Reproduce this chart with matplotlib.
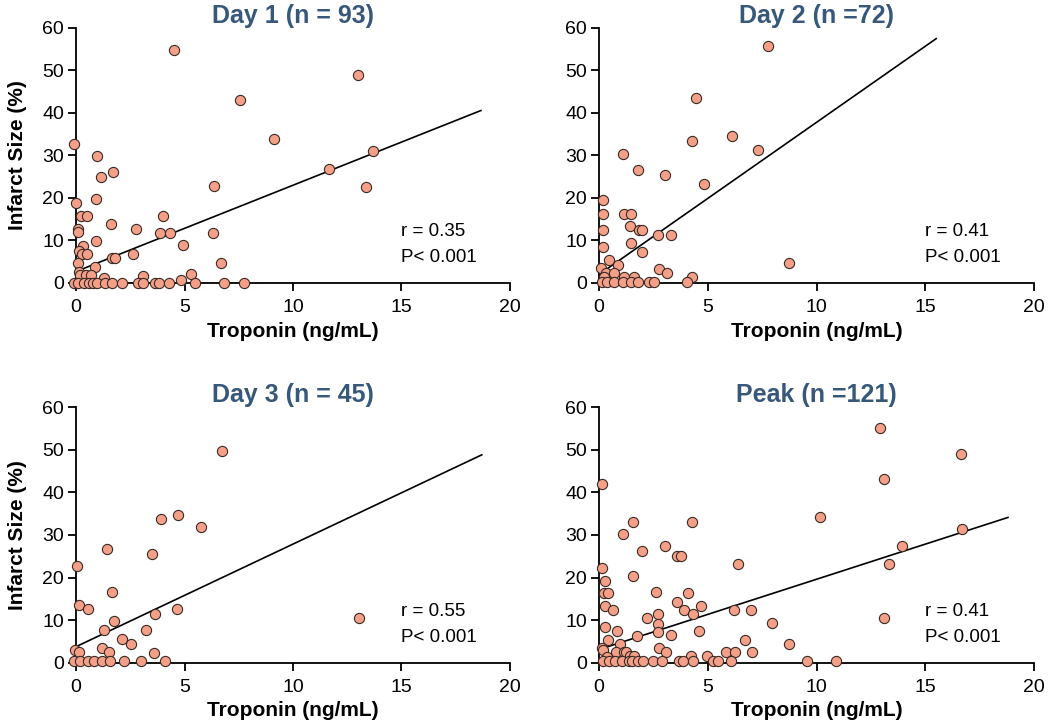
import numpy as np
import matplotlib
matplotlib.use("Agg")
import matplotlib.pyplot as plt

plt.rcParams['font.family'] = ['Liberation Sans', 'DejaVu Sans']

titles = ["Day 1 (n = 93)", "Day 2 (n =72)", "Day 3 (n = 45)", "Peak (n =121)"]
r_text = ["r = 0.35", "r = 0.41", "r = 0.55", "r = 0.41"]
p_text = ["P< 0.001", "P< 0.001", "P< 0.001", "P< 0.001"]

# day 1
day1_x = [-0.1, 0.95, 1.15, 1.72, 0.0, 0.92, 0.23, 0.49, 0.1, 0.08, 1.63, 0.92, 0.3, 0.14,
          0.28, 0.49, 0.08, 0.86, 0.12, 0.2, 0.46, 0.67, 1.29, 1.67, 1.78, 2.78, 2.62, 3.08,
          4.0, 3.88, 4.31, 4.93, 4.52, 5.32, 4.86, 6.34, 6.33, 6.67, 7.57, 9.12, 11.67, 13.0,
          13.35, 13.7,
          -0.09, 0.11, 0.36, 0.6, 0.8, 0.97, 1.33, 1.67, 2.11, 2.86, 3.08, 3.66, 3.82, 4.29,
          5.5, 6.83, 7.73]
day1_y = [32.8, 29.8, 25.0, 26.0, 18.9, 19.7, 15.8, 15.8, 12.8, 11.9, 13.8, 9.8, 8.8, 7.5,
          6.8, 6.8, 4.8, 3.8, 2.5, 1.8, 1.8, 1.8, 1.1, 5.9, 5.9, 12.7, 6.8, 1.7,
          15.8, 11.8, 11.8, 9.0, 54.9, 2.0, 0.7, 22.9, 11.8, 4.7, 43.0, 33.9, 26.9, 49.0,
          22.7, 31.0,
          0, 0, 0, 0, 0, 0, 0, 0, 0, 0, 0, 0, 0, 0,
          0, 0, 0]

# day 2
day2_x = [7.76, 4.44, 4.26, 6.13, 7.3, 1.09, 1.79, 3.05, 4.84, 0.17, 0.17, 1.16, 1.45, 0.16,
          1.43, 1.82, 1.98, 2.72, 3.3, 1.45, 0.16, 1.96, 0.44, 0.87, 0.08, 0.34, 0.71, 2.78,
          3.12, 8.73, 0.25, 1.17, 1.6, 4.26,
          0.15, 0.37, 0.69, 1.11, 1.48, 1.81, 2.3, 2.53, 4.06]
day2_y = [55.8, 43.5, 33.5, 34.6, 31.4, 30.4, 26.6, 25.3, 23.4, 19.6, 16.3, 16.3, 16.3, 12.5,
          13.4, 12.4, 12.4, 11.4, 11.4, 9.4, 8.5, 7.4, 5.4, 4.3, 3.5, 2.4, 2.3, 3.4,
          2.4, 4.6, 1.5, 1.3, 1.4, 1.4,
          0.3, 0.3, 0.3, 0.3, 0.3, 0.3, 0.3, 0.3, 0.3]

# day 3
day3_x = [6.71, 4.68, 3.93, 5.76, 1.43, 3.52, 0.05, 1.66, 0.12, 0.54, 4.64, 3.66, 1.77, 1.29,
          3.23, 2.12, 2.52, 1.21, 1.52, 3.58, -0.03, 0.14, 13.04,
          -0.08, 0.2, 0.54, 0.82, 1.19, 1.56, 2.2, 3.0, 4.1]
day3_y = [49.7, 34.8, 33.8, 31.8, 26.7, 25.6, 22.7, 16.6, 13.5, 12.6, 12.5, 11.5, 9.7, 7.6,
          7.6, 5.6, 4.5, 3.5, 2.5, 2.3, 3.0, 2.5, 10.6,
          0.5, 0.5, 0.5, 0.5, 0.5, 0.5, 0.5, 0.5, 0.5]

# peak
peak_x = [12.91, 16.66, 13.08, 0.12, 10.15, 1.58, 4.26, 1.1, 16.71, 3.02, 13.95, 1.99, 3.6, 3.78,
          6.37, 13.35, 0.14, 0.26, 1.55, 0.21, 0.4, 2.6, 4.1, 0.26, 0.66, 3.58, 3.92, 4.32,
          4.67, 6.19, 6.97, 2.71, 2.19, 13.08, 2.71, 7.95, 0.28, 0.81, 2.71, 4.59, 3.31, 1.76,
          0.43, 6.69, 0.95, 8.73, 0.12, 0.18, 2.77, 3.09, 0.77, 1.13, 1.24, 5.85, 6.25, 7.05,
          1.41, 1.59, 4.23, 4.95, 0.37,
          0.17, 0.47, 0.75, 1.04, 1.38, 1.53, 1.78, 2.01, 2.48, 2.89, 3.69, 3.86, 4.3, 5.25,
          5.48, 6.08, 9.57, 10.9]
peak_y = [55.1, 49.1, 43.1, 42.0, 34.3, 33.1, 33.0, 30.2, 31.4, 27.3, 27.3, 26.2, 25.1, 25.1,
          23.3, 23.2, 22.2, 19.1, 20.4, 16.4, 16.4, 16.5, 16.4, 13.3, 12.4, 14.3, 12.4, 11.5,
          13.3, 12.4, 12.4, 11.4, 10.6, 10.4, 9.2, 9.3, 8.5, 7.4, 7.2, 7.5, 6.4, 6.3,
          5.4, 5.4, 4.4, 4.5, 3.5, 3.0, 3.5, 2.4, 2.4, 2.4, 2.4, 2.6, 2.6, 2.4,
          1.6, 1.6, 1.6, 1.6, 1.4,
          0.4, 0.4, 0.4, 0.4, 0.4, 0.4, 0.4, 0.4, 0.4, 0.4, 0.4, 0.4, 0.4, 0.4,
          0.4, 0.4, 0.4, 0.4]

# regression lines: intercept, slope, end x
fit_b = [2.7, 2.0, 3.76, 3.1]
fit_m = [2.03, 3.58, 2.41, 1.65]
fit_xend = [18.66, 15.5, 18.7, 18.8]

xs = [day1_x, day2_x, day3_x, peak_x]
ys = [day1_y, day2_y, day3_y, peak_y]

fig = plt.figure(figsize=(10.5, 7.23), dpi=100)
boxes = [[0.0724, 0.6086, 0.4133, 0.3527],
         [0.5705, 0.6086, 0.4143, 0.3527],
         [0.0724, 0.0834, 0.4133, 0.3533],
         [0.5705, 0.0834, 0.4143, 0.3533]]

for i in range(4):
    ax = fig.add_axes(boxes[i])
    ax.scatter(xs[i], ys[i], s=54, facecolor='#F4A088', edgecolor='#3a2a26',
               linewidth=0.8, zorder=3, clip_on=False)
    lx = np.array([0, fit_xend[i]])
    ax.plot(lx, fit_b[i] + fit_m[i] * lx, color='black', lw=1.2, zorder=2, clip_on=False)
    ax.set_xlim(0, 20)
    ax.set_ylim(0, 60)
    ax.set_xticks([0, 5, 10, 15, 20])
    ax.set_yticks([0, 10, 20, 30, 40, 50, 60])
    for s in ['top', 'right']:
        ax.spines[s].set_visible(False)
    for s in ['left', 'bottom']:
        ax.spines[s].set_linewidth(1.3)
    ax.tick_params(direction='out', length=5.5, width=1.3, labelsize=14)
    ax.tick_params(axis='x', pad=6)
    ax.tick_params(axis='y', pad=3)
    ax.set_title(titles[i], fontsize=18, fontweight='bold', color='#37587a', pad=3)
    ax.set_xlabel("Troponin (ng/mL)", fontsize=15, fontweight='bold', labelpad=4)
    if i % 2 == 0:
        ax.set_ylabel("Infarct Size (%)", fontsize=15, fontweight='bold', labelpad=11)
    ax.text(15.0, 12, r_text[i], fontsize=13.5, va='center', ha='left')
    ax.text(15.0, 6, p_text[i], fontsize=13.5, va='center', ha='left')

fig.savefig("out.png", dpi=100)
